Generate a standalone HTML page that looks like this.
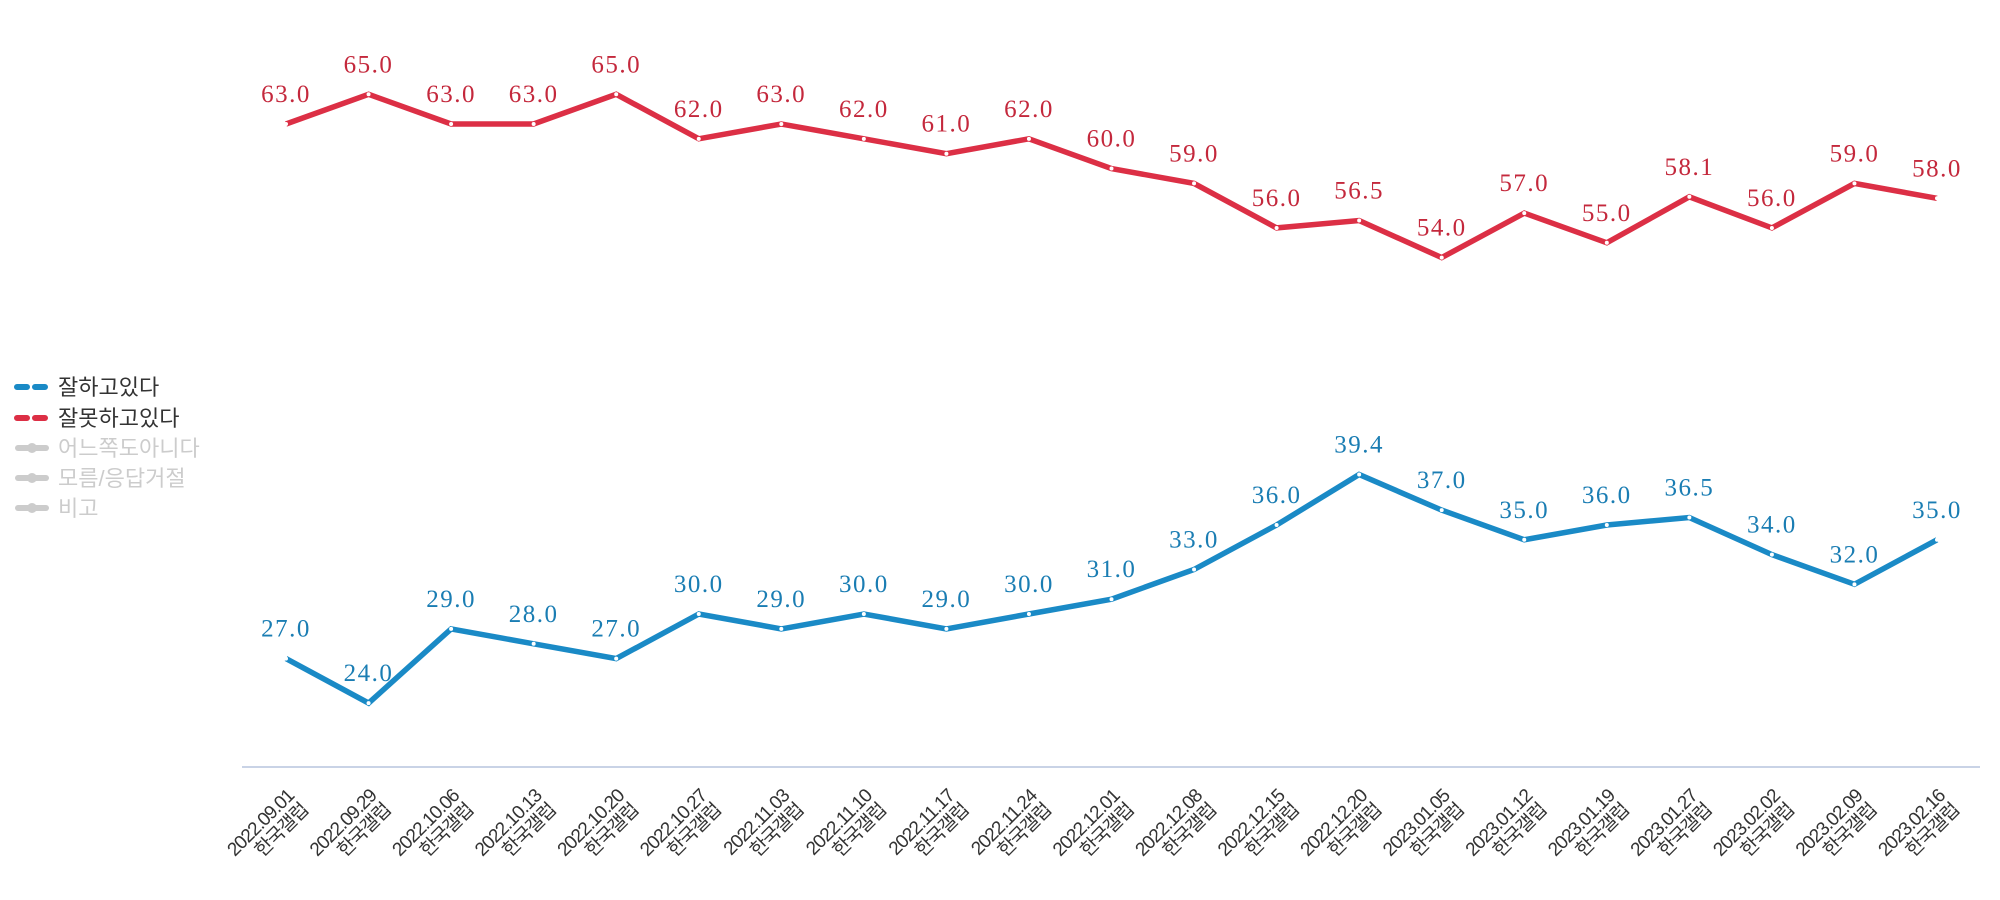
<!DOCTYPE html>
<html><head><meta charset="utf-8"><style>
html,body{margin:0;padding:0;background:#fff;width:2000px;height:900px;overflow:hidden}
svg text{font-family:"Liberation Sans","Noto Sans CJK KR",sans-serif}
.v{font-family:"Liberation Serif","DejaVu Serif",serif;font-size:25px;letter-spacing:1.5px;text-anchor:middle}
.r{fill:#c4283c}.b{fill:#1a7db3}
.x{font-size:19px;fill:#333;text-anchor:end;letter-spacing:-1px}
.lg{font-size:22px}
</style></head><body>
<svg width="2000" height="900" xmlns="http://www.w3.org/2000/svg" id="s">
<line x1="242" y1="767" x2="1980" y2="767" stroke="#c9d3e6" stroke-width="2"/>
<g>
<line x1="17" y1="387" x2="47" y2="387" stroke="#1a8ac6" stroke-width="6" stroke-dasharray="10,8" stroke-linecap="round"/>
<text x="58" y="395" class="lg" fill="#333">잘하고있다</text>
<line x1="17" y1="418" x2="47" y2="418" stroke="#dc2f45" stroke-width="6" stroke-dasharray="10,8" stroke-linecap="round"/>
<text x="58" y="426" class="lg" fill="#333">잘못하고있다</text>
<line x1="18" y1="448" x2="46" y2="448" stroke="#ccc" stroke-width="6" stroke-linecap="round"/><circle cx="32" cy="448" r="5" fill="#ccc"/>
<text x="58" y="456" class="lg" fill="#ccc">어느쪽도아니다</text>
<line x1="18" y1="478" x2="46" y2="478" stroke="#ccc" stroke-width="6" stroke-linecap="round"/><circle cx="32" cy="478" r="5" fill="#ccc"/>
<text x="58" y="486" class="lg" fill="#ccc">모름/응답거절</text>
<line x1="18" y1="508" x2="46" y2="508" stroke="#ccc" stroke-width="6" stroke-linecap="round"/><circle cx="32" cy="508" r="5" fill="#ccc"/>
<text x="58" y="516" class="lg" fill="#ccc">비고</text>
</g>
<g id="g"></g>
</svg>
<script>
var red=[63,65,63,63,65,62,63,62,61,62,60,59,56,56.5,54,57,55,58.1,56,59,58];
var blue=[27,24,29,28,27,30,29,30,29,30,31,33,36,39.4,37,35,36,36.5,34,32,35];
var d=["2022.09.01","2022.09.29","2022.10.06","2022.10.13","2022.10.20","2022.10.27","2022.11.03","2022.11.10","2022.11.17","2022.11.24","2022.12.01","2022.12.08","2022.12.15","2022.12.20","2023.01.05","2023.01.12","2023.01.19","2023.01.27","2023.02.02","2023.02.09","2023.02.16"];
function X(i){return 286+i*82.55}function Y(v){return 124+(63-v)*14.85}
var h="";
function ser(a,col,cls){var p=a.map(function(v,i){return X(i).toFixed(1)+","+Y(v).toFixed(1)}).join(" ");
h+='<polyline points="'+p+'" fill="none" stroke="'+col+'" stroke-width="5.5" stroke-linejoin="miter"/>';
a.forEach(function(v,i){h+='<circle cx="'+X(i)+'" cy="'+Y(v)+'" r="2" fill="#fff"/>';
h+='<text class="v '+cls+'" x="'+X(i)+'" y="'+(Y(v)-22)+'">'+v.toFixed(1)+'</text>';});}
ser(red,"#dc2f45","r");ser(blue,"#1a8ac6","b");
d.forEach(function(s,i){var x=X(i)+9,y=797;
h+='<text class="x" transform="rotate(-45 '+x+' '+y+')" x="'+x+'" y="'+y+'">'+s+'<tspan x="'+x+'" dy="20">한국갤럽</tspan></text>';});
document.getElementById("g").innerHTML=h;
</script>
</body></html>
